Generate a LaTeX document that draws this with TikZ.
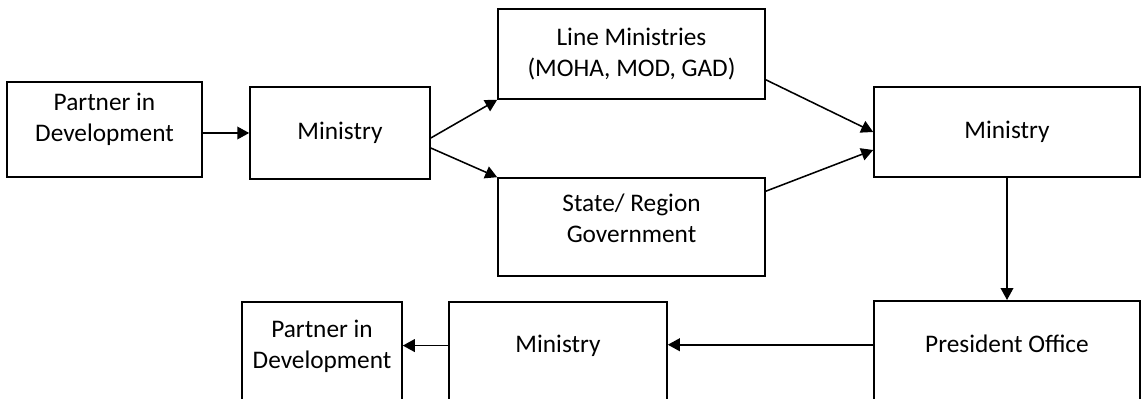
\documentclass[tikz,border=0pt]{standalone}
\usepackage{fontspec}
\setmainfont{Carlito}
\usetikzlibrary{arrows.meta,calc}

\begin{document}
\begin{tikzpicture}[x=0.025cm,y=-0.025cm,
    box/.style={draw,line width=1.1pt,align=center,font=\fontsize{18}{22}\selectfont},
    lowbox/.style={box,anchor=north,text depth=3cm},
    >={Triangle[length=8.5pt,width=9pt]},
    link/.style={->,line width=1.1pt}]
\useasboundingbox (0,0) rectangle (1144,399);
\clip (0,0) rectangle (1144,399);
\node[box,minimum width=4.875cm,minimum height=2.375cm,text depth=17pt] (partnerA) at (104.5,129.5) {Partner in\\Development};
\node[box,minimum width=4.5cm,minimum height=2.3cm] (ministryA) at (340,133) {Ministry};
\node[box,minimum width=6.675cm,minimum height=2.25cm] (lineMin) at (631.5,54) {Line Ministries\\(MOHA, MOD, GAD)};
\node[box,minimum width=6.675cm,minimum height=2.45cm,text depth=12.6pt] (stateGov) at (631.5,227) {State/ Region\\Government};
\node[box,minimum width=6.65cm,minimum height=2.25cm] (ministryB) at (1007,132) {Ministry};
\node[lowbox,minimum width=6.65cm,inner ysep=24pt] (presOffice) at (1007,300) {President Office};
\node[lowbox,minimum width=5.45cm,inner ysep=24pt] (ministryC) at (558,301) {Ministry};
\node[lowbox,minimum width=4cm,inner ysep=13pt] (partnerB) at (322,301) {Partner in\\Development};

\draw[link] (ministryA.west -| partnerA.east) -- (ministryA.west);
\draw[link] ($(ministryA.east)+(0,5)$) -- (lineMin.south west);
\draw[link] ($(ministryA.east)+(0,15)$) -- (stateGov.north west);
\draw[link] ($(lineMin.south east)+(0,-20)$) -- (ministryB.west);
\draw[link] ($(stateGov.north east)+(0,14)$) -- ($(ministryB.west)+(0,18)$);
\draw[link] (ministryB.south) -- (presOffice.north);
\draw[link] ($(presOffice.mid west)+(0,-4)$) -- ($(presOffice.mid west -| ministryC.east)+(0,-4)$);
\draw[link] ($(ministryC.mid west)+(0,-4)$) -- ($(ministryC.mid west -| partnerB.east)+(0,-4)$);
\end{tikzpicture}
\end{document}
